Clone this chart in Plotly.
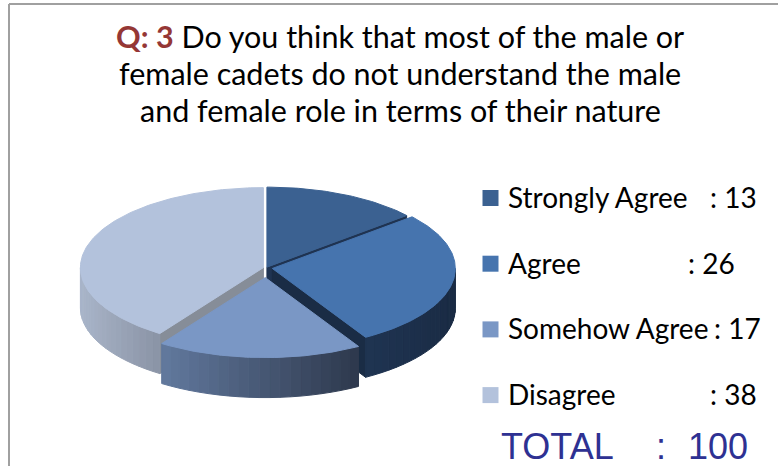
import numpy as np
import plotly.graph_objects as go

# Survey answers
labels = ["Strongly Agree", "Agree", "Somehow Agree", "Disagree"]
counts = [13, 26, 17, 38]
total_text = "100"

title_lines = [
    "<span style='color:#953735'><b>Q: 3</b></span> Do you think that most of the male or",
    "female cadets do not understand the male",
    "and female role in terms of their nature",
]

# Slice styling
top_colors = ["#3B6191", "#4674AE", "#7A97C5", "#B3C2DC"]
wall_left = ["#22385A", "#1F3452", "#62799E", "#A9B5C9"]
wall_right = ["#1A2C46", "#1A2B44", "#2D384C", "#8A93A5"]
radial_colors = ["#1F3351", "#1A2C45", "#3A4A66", "#868D98"]
explode = [0.012, 0.035, 0.12, 0.015]

W, H = 778, 466
CX, CY, RX, RY, DEPTH = 266, 268, 183, 80, 40


def mix(c1, c2, t):
    a = [int(c1[i:i + 2], 16) for i in (1, 3, 5)]
    b = [int(c2[i:i + 2], 16) for i in (1, 3, 5)]
    return "#" + "".join(f"{round(a[k] + (b[k] - a[k]) * t):02x}" for k in range(3))


def arc(a0, a1, off, dz=0.0):
    th = np.radians(np.linspace(a0, a1, max(int(abs(a1 - a0)) + 2, 2)))
    xs = CX + off[0] + RX * np.sin(th)
    ys = CY + off[1] - RY * np.cos(th) + dz
    return list(xs), list(ys)


def poly(fig, xs, ys, color):
    fig.add_trace(go.Scatter(
        x=xs + [xs[0]], y=ys + [ys[0]], mode="lines", fill="toself",
        fillcolor=color, line=dict(color=color, width=1),
        hoverinfo="skip", showlegend=False))


fig = go.Figure()

total = sum(counts)
starts = np.cumsum([0] + counts[:-1]) / total * 360.0
ends = np.cumsum(counts) / total * 360.0

# back-to-front drawing order
order = [0, 3, 1, 2]
for i in order:
    a0, a1 = starts[i], ends[i]
    mid = np.radians((a0 + a1) / 2)
    off = (explode[i] * RX * np.sin(mid), -explode[i] * RY * np.cos(mid))
    c = (CX + off[0], CY + off[1])

    # radial side faces
    if np.sin(np.radians(a0)) < -1e-9:
        px, py = arc(a0, a0, off)
        poly(fig, [c[0], px[0], px[0], c[0]], [c[1], py[0], py[0] + DEPTH, c[1] + DEPTH], radial_colors[i])
    if np.sin(np.radians(a1)) > 1e-9:
        px, py = arc(a1, a1, off)
        poly(fig, [c[0], px[0], px[0], c[0]], [c[1], py[0], py[0] + DEPTH, c[1] + DEPTH], radial_colors[i])

    # outer curved wall (front half only), shaded left to right
    v0, v1 = max(a0, 90.0), min(a1, 270.0)
    if v1 > v0:
        k = 20
        edges = np.linspace(v0, v1, k + 1)
        xl = CX + off[0] + RX * np.sin(np.radians(v1))
        xr = CX + off[0] + RX * np.sin(np.radians(v0))
        for j in range(k):
            tx, ty = arc(edges[j], edges[j + 1], off)
            bx, by = arc(edges[j + 1], edges[j], off, DEPTH)
            xm = CX + off[0] + RX * np.sin(np.radians((edges[j] + edges[j + 1]) / 2))
            t = (xm - xl) / (xr - xl) if xr != xl else 0
            poly(fig, tx + bx, ty + by, mix(wall_left[i], wall_right[i], t))

    # top face
    tx, ty = arc(a0, a1, off)
    poly(fig, [c[0]] + tx, [c[1]] + ty, top_colors[i])

# legend swatches
row_y = [198 + 65.7 * r for r in range(len(labels))]
fig.add_trace(go.Scatter(
    x=[490.5] * len(labels), y=row_y, mode="markers",
    marker=dict(symbol="square", size=16, color=top_colors, line=dict(width=0)),
    hoverinfo="skip", showlegend=False))

ann = []
FONT = "Lato, Calibri, sans-serif"
for r, lab in enumerate(labels):
    ann.append(dict(x=506, y=row_y[r] - 1, text=lab, xanchor="left", yanchor="middle",
                    font=dict(family=FONT, size=28, color="#000000")))
col_x = [708, 686, 712, 708]
for r, n in enumerate(counts):
    ann.append(dict(x=col_x[r], y=row_y[r] - 1, text=f": {n}", xanchor="left", yanchor="middle",
                    font=dict(family=FONT, size=28, color="#000000")))

title_y = [36, 73, 110]
for line, yy in zip(title_lines, title_y):
    ann.append(dict(x=400, y=yy, text=line, xanchor="center", yanchor="middle",
                    font=dict(family=FONT, size=30.5, color="#000000")))

TFONT = dict(family="Liberation Sans, Arial, sans-serif", size=36, color="#2E3192")
ann.append(dict(x=499, y=446, text="TOTAL", xanchor="left", yanchor="middle", font=TFONT))
ann.append(dict(x=661, y=446, text=":", xanchor="center", yanchor="middle", font=TFONT))
ann.append(dict(x=686, y=446, text=total_text, xanchor="left", yanchor="middle", font=TFONT))

for a in ann:
    a.update(xref="x", yref="y", showarrow=False)

fig.update_layout(
    width=W, height=H, margin=dict(l=0, r=0, t=0, b=0),
    paper_bgcolor="white", plot_bgcolor="white",
    xaxis=dict(range=[0, W], visible=False, fixedrange=True),
    yaxis=dict(range=[H, 0], visible=False, fixedrange=True),
    annotations=ann,
    shapes=[
        dict(type="line", xref="x", yref="y", x0=9, x1=W, y0=4, y1=4,
             line=dict(color="#A0A0A0", width=2)),
        dict(type="line", xref="x", yref="y", x0=9, x1=9, y0=4, y1=H,
             line=dict(color="#A0A0A0", width=2)),
    ],
    showlegend=False,
)

fig.write_html("out.html")
